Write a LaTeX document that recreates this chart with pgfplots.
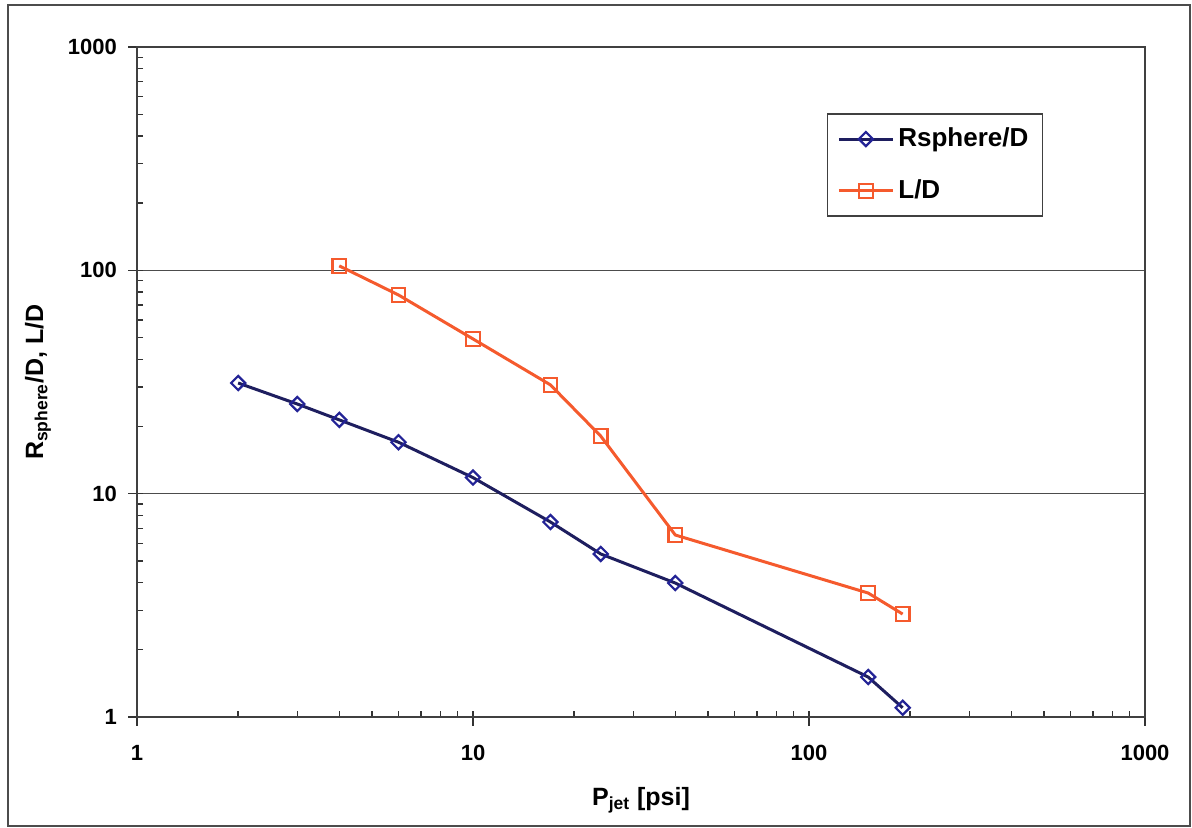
\documentclass[border=0pt]{standalone}
\usepackage{fontspec}
\setmainfont{Liberation Sans}
\usepackage{pgfplots}
\pgfplotsset{compat=1.18}
\definecolor{navyline}{RGB}{30,30,95}
\definecolor{navymark}{RGB}{35,35,150}
\definecolor{orangeline}{RGB}{245,90,45}
\begin{document}
\begin{tikzpicture}
\useasboundingbox (0,0) rectangle (596pt,414pt);
\draw[black!70, line width=0.8pt] (4pt,1pt) rectangle (595pt,411.5pt);
\begin{axis}[
    at={(68.5pt,55.5pt)}, anchor=south west,
    scale only axis, width=504pt, height=335pt,
    xmode=log, ymode=log,
    xmin=1, xmax=1000, ymin=1, ymax=1000,
    xtick={1,10,100,1000}, xticklabels={1,10,100,1000},
    ytick={1,10,100,1000}, yticklabels={1,10,100,1000},
    xtick pos=left, ytick pos=left,
    tick align=outside,
    major tick length=4.5pt, minor tick length=-3pt,
    tick style={black!80, line width=0.7pt},
    axis line style={black!75, line width=0.8pt},
    ymajorgrids, grid style={black!70, line width=0.6pt},
    tick label style={font=\fontsize{11}{13}\selectfont\bfseries},
    xticklabel style={yshift=-6pt},
    yticklabel style={xshift=-2pt},
    xlabel={P\textsubscript{jet} [psi]},
    ylabel={R\textsubscript{sphere}/D, L/D},
    every axis x label/.style={at={(axis description cs:0.5,-0.1239)}, anchor=center,
        font=\fontsize{12.5}{14}\selectfont\bfseries},
    every axis y label/.style={at={(axis description cs:-0.0982,0.5)}, rotate=90, anchor=center,
        font=\fontsize{12.5}{14}\selectfont\bfseries},
    legend style={at={(0.899,0.901)}, anchor=north east, draw=black!75, line width=0.8pt,
        font=\fontsize{13}{15}\selectfont\bfseries, inner xsep=5pt, inner ysep=5pt,
        row sep=11pt, cells={anchor=west}},
    legend image code/.code={\draw[mark repeat=2, mark phase=2] plot coordinates {(0pt,0pt) (13.5pt,0pt) (27pt,0pt)};},
]
\addplot[color=navyline, line width=1.5pt, mark=square, mark size=2.5pt,
    mark options={rotate=45, draw=navymark, fill=none, line width=1.1pt, solid}]
    coordinates {(2,31.3) (3,25.2) (4,21.4) (6,17.0) (10,11.8) (17,7.47) (24,5.37) (40,3.98) (150,1.51) (190,1.10)};
\addlegendentry{Rsphere/D}
\addplot[color=orangeline, line width=1.5pt, mark=square, mark size=3.4pt,
    mark options={fill=none, line width=1.1pt, solid}]
    coordinates {(4,104.7) (6,77.6) (10,49.3) (17,30.7) (24,18.1) (40,6.53) (150,3.59) (190,2.89)};
\addlegendentry{L/D}
\end{axis}
\end{tikzpicture}
\end{document}
